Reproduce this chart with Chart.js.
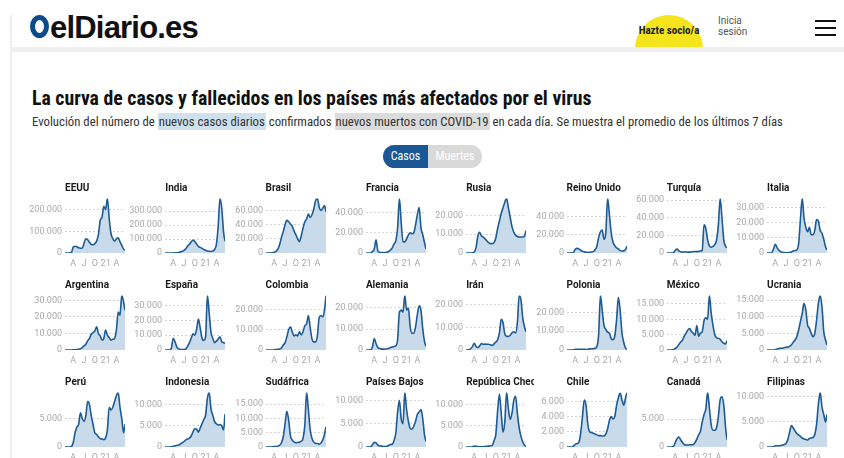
<!DOCTYPE html>
<html lang="es">
<head>
<meta charset="utf-8">
<title>La curva de casos y fallecidos</title>
<script src="https://cdn.jsdelivr.net/npm/chart.js@4.4.1/dist/chart.umd.min.js"></script>
<style>
  body { margin: 0; width: 844px; height: 458px; overflow: hidden; background: #fff; font-family: Roboto, sans-serif; position: relative; }
  .edge { position: absolute; left: 10px; top: 15px; width: 2px; height: 443px; background: #eee; }
  .band { position: absolute; left: 12px; top: 47px; right: 0; height: 5px; background: #efefef; }
  .logo { position: absolute; left: 30px; top: 10px; font: bold 31px "Liberation Sans", Arial, sans-serif; letter-spacing: -0.8px; color: #111; }
  .ring { display: inline-block; width: 9px; height: 13px; border: 5px solid #0c4a8c; border-radius: 50%; margin-right: 1px; vertical-align: 0px; }
  .socio { position: absolute; left: 635px; top: 15px; width: 68px; height: 32px; overflow: hidden; }
  .socio div { width: 68px; height: 68px; border-radius: 50%; background: #f6e41c; }
  .socio span { position: absolute; left: 0; width: 68px; top: 9px; text-align: center; font: bold 11px "Liberation Sans Narrow", "Roboto Condensed", sans-serif; color: #222; }
  .login { position: absolute; left: 718px; top: 15px; font: 10px/11px "Liberation Sans Narrow", Roboto, sans-serif; color: #555; }
  .burger { position: absolute; left: 815px; top: 20px; width: 21px; }
  .burger i { display: block; height: 2px; background: #111; margin-bottom: 5px; }
  h1 { position: absolute; left: 32px; top: 87px; margin: 0; font: bold 19.8px "Liberation Sans Narrow", "Roboto Condensed", sans-serif; color: #111; white-space: nowrap; }
  .desc { position: absolute; left: 32px; top: 114px; margin: 0; font: 12.75px/16px "Liberation Sans Narrow", "Roboto Condensed", sans-serif; color: #333; white-space: nowrap; }
  .desc .c { background: #cfe0ee; padding: 1px 1px; }
  .desc .m { background: #dcdcdc; padding: 1px 1px; }
  .toggle { position: absolute; left: 383px; top: 145px; height: 23px; font: 12px/23px "Liberation Sans Narrow", "Roboto Condensed", sans-serif; color: #fff; }
  .toggle span { float: left; height: 23px; text-align: center; }
  .toggle .on { width: 45px; background: #1b5795; border-radius: 12px 0 0 12px; }
  .toggle .off { width: 54px; background: #d9d9d9; border-radius: 0 12px 12px 0; }
  .cell { position: absolute; width: 100px; height: 80px; }
  .cell .name { position: absolute; left: 40px; top: -9px; width: 68px; height: 14px; overflow: hidden; white-space: nowrap; font: bold 10px/14px Roboto, sans-serif; color: #1a1a1a; z-index: 2; }
  .cell canvas { position: absolute; left: 0; top: 0; }
</style>
</head>
<body>
<div class="edge"></div>
<div class="logo"><span class="ring"></span>elDiario.es</div>
<div class="socio"><div></div><span>Hazte socio/a</span></div>
<div class="login">Inicia<br>sesión</div>
<div class="burger"><i></i><i></i><i></i></div>
<div class="band"></div>

<h1>La curva de casos y fallecidos en los países más afectados por el virus</h1>
<p class="desc">Evolución del número de <span class="c">nuevos casos diarios</span> confirmados <span class="m">nuevos muertos con COVID-19</span> en cada día. Se muestra el promedio de los últimos 7 días</p>
<div class="toggle"><span class="on">Casos</span><span class="off">Muertes</span></div>

<div id="grid"></div>

<script>
'use strict';
// months since 1 Jan 2020
let months = [0.7, 1, 1.5, 2, 2.5, 3, 3.5, 4, 4.5, 5, 5.5, 6, 6.5, 7, 7.5, 8, 8.5, 9, 9.5, 10, 10.5, 11, 11.5, 12, 12.5, 13, 13.5, 14, 14.5, 15, 15.5, 16, 16.5, 17, 17.4];
let monthTicks = [3, 6, 9, 12, 15];
let monthLabels = ['A', 'J', 'O', '21', 'A'];

let countries = ['EEUU', 'India', 'Brasil', 'Francia', 'Rusia', 'Reino Unido', 'Turquía', 'Italia',
  'Argentina', 'España', 'Colombia', 'Alemania', 'Irán', 'Polonia', 'México', 'Ucrania',
  'Perú', 'Indonesia', 'Sudáfrica', 'Países Bajos', 'República Checa', 'Chile', 'Canadá', 'Filipinas'];

let tickSteps = [100000, 100000, 20000, 20000, 10000, 20000, 20000, 10000,
  10000, 10000, 10000, 10000, 10000, 10000, 5000, 5000,
  5000, 5000, 5000, 5000, 5000, 2000, 5000, 5000];

let eeuu = [0,0,0,0,3000,28000,31000,29000,24000,22000,23000,45000,66000,62000,50000,40000,38000,43000,55000,85000,150000,165000,215000,200000,252000,160000,90000,66000,55000,65000,70000,52000,35000,18000,13000];
let india = [0,0,0,0,20,150,1000,2000,4000,8000,12000,19000,30000,50000,62000,80000,93000,82000,65000,47000,40000,33000,26000,19000,15000,12000,11000,15000,25000,62000,190000,391000,320000,150000,85000];
let brasil = [0,0,0,100,400,1000,2500,5500,12000,22000,30000,40000,46000,44000,41000,38000,31000,26000,20000,16000,24000,35000,44000,48000,55000,50000,54000,62000,74000,77000,65000,60000,63000,67000,58000];
let francia = [0,0,10,50,1500,4000,13000,2000,700,500,500,500,700,1500,3000,5000,9000,12000,25000,54000,30000,11000,11000,14000,18000,20000,19000,20000,28000,38000,45000,25000,18000,10000,4000];
let rusia = [0,0,0,10,50,500,3000,9000,11000,9000,8500,7500,6500,5500,5000,5000,5500,8000,13000,17000,21000,24000,27000,29000,24000,19000,14000,11000,9500,8800,8500,8500,8500,9000,12000];
let reinoUnido = [0,0,5,50,700,4000,5000,4500,3000,1800,1200,800,700,800,1000,1500,3500,7000,17000,23000,25000,15000,22000,59500,42000,22000,12000,8000,5500,4500,2600,2200,2300,4000,7500];
let turquia = [0,0,0,0,300,3000,4500,2500,1500,1000,1200,1100,1000,1000,1200,1500,1700,1600,1800,2200,3000,32000,28000,15000,8000,6500,7500,9500,15000,32000,62000,40000,15000,7500,6000];
let italia = [0,0,5,200,2500,5800,3500,1800,900,400,300,200,250,350,700,1300,1600,2000,6000,22000,36000,23000,17000,14000,17000,12000,12000,15000,22000,21000,15000,13000,9000,4000,2000];
let argentina = [0,0,0,0,10,100,150,250,500,800,1500,2500,3500,5500,7000,9500,10500,11500,14000,10000,8500,6000,7000,12000,9000,7500,6000,6500,7000,12000,23000,21000,33000,29000,24000];
let espana = [0,0,0,50,1500,8000,5500,2000,800,400,300,350,700,2500,5000,8000,11000,10000,14000,21000,15000,8000,6500,9000,37000,25000,12000,8000,5000,6000,7500,9000,5500,5000,4500];
let colombia = [0,0,0,0,30,100,200,300,500,1000,2500,3500,6500,10000,11500,9000,7000,7500,7000,9000,7500,9000,12000,13000,17000,11000,5500,4000,4000,7000,16000,17000,16500,20000,27000];
let alemania = [0,0,5,50,1500,5500,3000,1200,700,500,400,450,500,800,1200,1400,1700,2000,5000,18000,19000,18000,26000,19000,20000,11000,8000,8000,11000,17000,21000,19000,10000,4000,1800];
let iran = [0,0,50,600,1500,3000,1500,1100,1800,2800,2500,2600,2500,2500,2300,2000,2700,3500,4500,7500,13500,12000,7000,6000,6000,6500,7500,8000,7500,12000,24000,22000,14000,10000,8000];
let polonia = [0,0,0,0,50,350,350,350,400,350,350,300,400,600,700,650,900,1800,8000,29000,21000,13000,11000,9500,9000,6000,5500,7500,16000,28000,21000,9000,4000,1000,400];
let mexico = [0,0,0,20,100,500,1000,1800,2600,3200,4500,5500,6500,7000,6000,5500,4800,8000,4500,5500,6000,9500,10500,10000,17800,12000,8000,5000,4000,3800,3500,2700,2200,2000,3000];
let ucrania = [0,0,0,0,10,100,300,450,500,550,700,850,900,1100,1600,2300,3000,4000,6000,8500,11000,14000,12000,7500,6500,5000,4000,5000,9000,14000,16400,13000,5500,3000,1500];
let peru = [0,0,0,10,100,800,2500,3500,4000,6000,5000,4500,5500,8000,7500,5500,4000,2500,2200,1800,1500,1400,1300,1600,3000,7000,6500,7000,8000,9000,9600,7000,5000,2500,4000];
let indonesia = [0,0,0,0,30,150,300,400,500,700,1000,1300,1700,1900,2100,2600,3600,4300,4200,3500,4500,5500,6500,7500,11500,12900,9000,7500,6000,5500,5200,5300,5000,4000,7800];
let sudafrica = [0,0,0,0,30,200,200,300,600,1500,3500,8000,12500,9500,4000,2400,1800,1500,1600,1700,2000,3000,7500,19100,13000,6000,3000,1700,1300,1200,1000,1400,2500,4500,7000];
let paisesBajos = [0,0,0,20,500,1000,900,400,250,180,120,80,150,350,550,600,1400,3000,7500,10000,6000,5000,11700,8000,5500,4000,3800,4500,5500,7000,7500,8000,6000,2500,1200];
let checa = [0,0,0,0,50,200,150,80,60,50,100,120,150,200,300,400,1500,3000,8500,12500,8000,3500,6000,12900,9000,6500,8000,11000,12000,8000,4500,2500,1200,400,200];
let chile = [0,0,0,0,100,350,450,600,1800,4000,6200,5500,3000,2000,1900,1800,1700,1600,1500,1500,1450,1450,1700,2400,3500,4000,3700,4000,5500,6500,7100,6200,5500,6500,7200];
let canada = [0,0,0,0,100,800,1500,1800,1300,800,450,350,350,400,400,450,800,1400,2200,2800,4500,5800,6800,9800,7000,4000,3000,3000,3500,5500,8500,9000,7500,3500,1300];
let filipinas = [0,0,0,0,30,250,250,250,300,400,500,700,1500,3000,4300,3800,3200,2700,2400,2100,1800,1600,1500,1400,1700,1800,1900,2500,4500,8500,10900,8000,6500,5000,6500];

let series = [eeuu, india, brasil, francia, rusia, reinoUnido, turquia, italia,
  argentina, espana, colombia, alemania, iran, polonia, mexico, ucrania,
  peru, indonesia, sudafrica, paisesBajos, checa, chile, canada, filipinas];

let rowTops = [190, 287, 384];
let grid = document.getElementById('grid');
let tickColor = '#a9a9a9';
let tickFont = { family: 'Roboto', size: 9 };

function miles(v) {
  return String(v).replace(/\B(?=(\d{3})+(?!\d))/g, '.');
}

function drawCountry(i) {
  let values = series[i];
  let step = tickSteps[i];
  let top = Math.max(...values);

  let cell = document.createElement('div');
  cell.className = 'cell';
  cell.style.left = (25 + (i % 8) * 100.3) + 'px';
  cell.style.top = rowTops[Math.floor(i / 8)] + 'px';
  let name = document.createElement('div');
  name.className = 'name';
  name.textContent = countries[i];
  let canvas = document.createElement('canvas');
  canvas.width = 100;
  canvas.height = 80;
  cell.appendChild(canvas);
  cell.appendChild(name);
  grid.appendChild(cell);

  let points = [];
  for (let j = 0; j < months.length; j++) {
    points.push({ x: months[j], y: values[j] });
  }

  new Chart(canvas, {
    type: 'line',
    data: {
      datasets: [{
        data: points,
        borderColor: '#1d5b95',
        borderWidth: 1.6,
        backgroundColor: '#c9dbea',
        fill: 'origin',
        pointRadius: 0,
        cubicInterpolationMode: 'monotone'
      }]
    },
    options: {
      responsive: false,
      animation: false,
      layout: { padding: { top: 6, left: 0, right: 0, bottom: 0 } },
      plugins: { legend: { display: false }, tooltip: { enabled: false } },
      scales: {
        x: {
          type: 'linear',
          min: 0.7,
          max: 17.4,
          afterBuildTicks: function (s) { s.ticks = monthTicks.map(v => ({ value: v })); },
          afterFit: function (s) { s.height = 17; },
          grid: { display: false, drawTicks: false },
          border: { display: false },
          ticks: {
            autoSkip: false, maxRotation: 0, padding: 5,
            color: tickColor, font: tickFont,
            callback: v => monthLabels[monthTicks.indexOf(v)]
          }
        },
        y: {
          min: 0,
          max: top,
          afterBuildTicks: function (s) {
            let t = [];
            for (let v = 0; v <= top; v += step) t.push({ value: v });
            s.ticks = t;
          },
          afterFit: function (s) { s.width = 40; },
          grid: {
            drawTicks: false,
            color: ctx => (ctx.tick && ctx.tick.value === 0) ? 'rgba(0,0,0,0)' : '#d6d6d6'
          },
          border: { display: false, dash: [2, 2] },
          ticks: {
            autoSkip: false, padding: 3,
            color: tickColor, font: tickFont,
            callback: v => miles(v)
          }
        }
      }
    }
  });
}

for (let i = 0; i < countries.length; i++) {
  drawCountry(i);
}
</script>
</body>
</html>
